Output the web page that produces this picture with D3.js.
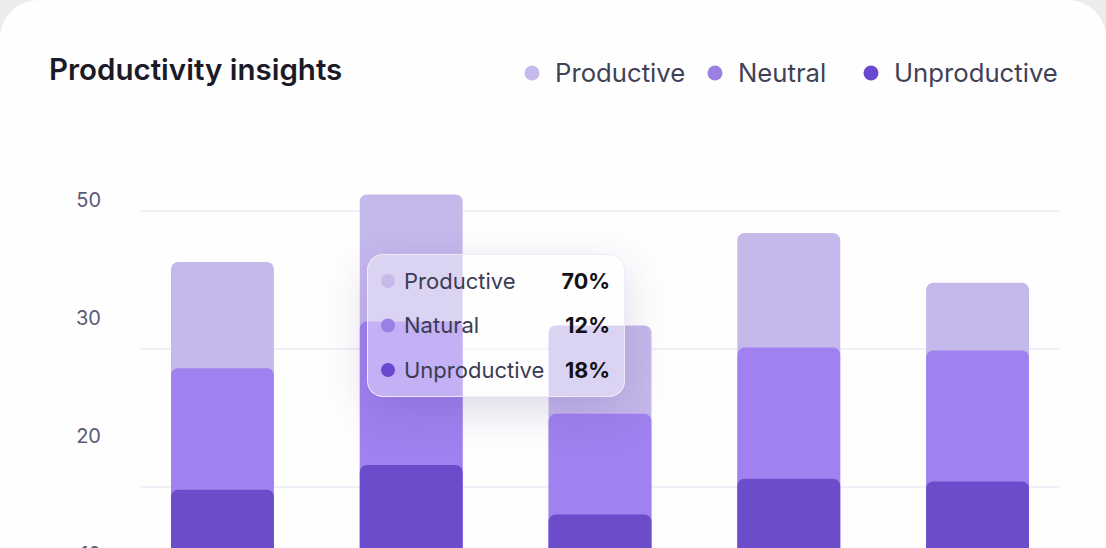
<!DOCTYPE html>
<html>
<head>
<meta charset="utf-8">
<script src="https://cdn.jsdelivr.net/npm/d3@7"></script>
<style>
  html, body { margin: 0; padding: 0; background: #ececee; overflow: hidden; }
  body { width: 1106px; height: 548px; position: relative; font-family: Inter, "Noto Sans", sans-serif; }
  #chart { position: absolute; left: 0; top: 0; }
  .tip {
    position: absolute;
    box-sizing: border-box;
    background: rgba(255,255,255,0.38);
    border: 1.5px solid rgba(238,234,250,0.95);
    border-radius: 16px;
    box-shadow: 0 14px 44px rgba(70,50,130,0.18);
  }
</style>
</head>
<body>
<div id="chart"></div>
<script>
var categories = ["Mon", "Tue", "Wed", "Thu", "Fri"];
var seriesNames = ["Unproductive", "Neutral", "Productive"];
var unproductive = [19.8, 21.6, 18.0, 20.6, 20.4];
var neutral = [8.8, 10.4, 7.3, 9.5, 9.5];
var productive = [7.7, 9.2, 6.4, 8.3, 4.9];

var gridValues = [40, 30, 20, 10];
var tickLabels = ["50", "30", "20", "10"];

var legendNames = ["Productive", "Neutral", "Unproductive"];
var tipNames = ["Productive", "Natural", "Unproductive"];
var tipValues = ["70%", "12%", "18%"];

var colors = { Productive: "#c5b8eb", Neutral: "#a181ef", Unproductive: "#6c4ccb" };
var dotColors = ["#c6b9ec", "#9a80e2", "#6a48d0"];

var width = 1106, height = 548;

var svg = d3.select("#chart").append("svg")
    .attr("width", width)
    .attr("height", height);

// card
svg.append("rect")
    .attr("x", 0).attr("y", 0)
    .attr("width", width).attr("height", height + 60)
    .attr("rx", 38)
    .attr("fill", "#fefefe");

svg.append("text")
    .attr("x", 49).attr("y", 80)
    .style("font-size", "29.5px")
    .style("font-weight", 600)
    .attr("fill", "#1b1a28")
    .text("Productivity insights");

// legend
var legendX = [532, 715, 871];
var lg = svg.selectAll(".lg").data(legendNames).enter().append("g")
    .attr("class", "lg")
    .attr("transform", function(d, i) { return "translate(" + legendX[i] + ",73)"; });
lg.append("circle").attr("r", 7.5).attr("fill", function(d, i) { return dotColors[i]; });
lg.append("text")
    .attr("x", 23).attr("y", 9)
    .style("font-size", "25.7px")
    .attr("fill", "#3f4257")
    .text(function(d) { return d; });

var x = d3.scaleBand()
    .domain(categories)
    .range([171, 1029])
    .paddingInner(0.455);

var y = d3.scaleLinear()
    .domain([0, 40])
    .range([763, 211]);

var labelY = d3.scalePoint()
    .domain(tickLabels)
    .range([200, 554]);

// gridlines
svg.selectAll(".grid").data(gridValues).enter().append("line")
    .attr("class", "grid")
    .attr("x1", 141).attr("x2", 1059)
    .attr("y1", function(d) { return y(d); })
    .attr("y2", function(d) { return y(d); })
    .attr("stroke", "#f1eff7")
    .attr("stroke-width", 2);

svg.selectAll(".ylab").data(tickLabels).enter().append("text")
    .attr("class", "ylab")
    .attr("x", 101)
    .attr("y", function(d) { return labelY(d); })
    .attr("dy", "0.36em")
    .attr("text-anchor", "end")
    .style("font-size", "20px")
    .attr("fill", "#5b5b76")
    .text(function(d) { return d; });

var rows = categories.map(function(c, i) {
  return { cat: c, Unproductive: unproductive[i], Neutral: neutral[i], Productive: productive[i] };
});
var stacked = d3.stack().keys(seriesNames)(rows);

// draw top segment first so the lower ones overlap its bottom
var layers = svg.selectAll(".layer").data(stacked.slice().reverse()).enter().append("g")
    .attr("class", "layer")
    .attr("fill", function(d) { return colors[d.key]; });

layers.selectAll("rect").data(function(d) { return d; }).enter().append("rect")
    .attr("x", function(d) { return x(d.data.cat); })
    .attr("width", x.bandwidth())
    .attr("y", function(d) { return y(d[1]); })
    .attr("height", function(d) { return y(0) - y(d[1]); })
    .attr("rx", 7);

// tooltip
var tip = d3.select("body").append("div")
    .attr("class", "tip")
    .style("left", "367px")
    .style("top", "254px")
    .style("width", "258px")
    .style("height", "143px");

var tsvg = d3.select("body").append("svg")
    .style("position", "absolute")
    .style("left", "367px").style("top", "254px")
    .attr("width", 258).attr("height", 143);

var trow = tsvg.selectAll("g").data(tipNames).enter().append("g")
    .attr("transform", function(d, i) { return "translate(0," + (27 + i * 44.5) + ")"; });
trow.append("circle").attr("cx", 21).attr("r", 7).attr("fill", function(d, i) { return dotColors[i]; });
trow.append("text")
    .attr("x", 37).attr("dy", "0.36em")
    .style("font-size", "22px")
    .attr("fill", "#3b3c52")
    .text(function(d) { return d; });
trow.append("text")
    .attr("x", 243).attr("dy", "0.36em")
    .attr("text-anchor", "end")
    .style("font-size", "21.5px")
    .style("font-weight", 700)
    .attr("fill", "#121118")
    .text(function(d, i) { return tipValues[i]; });
</script>
</body>
</html>
